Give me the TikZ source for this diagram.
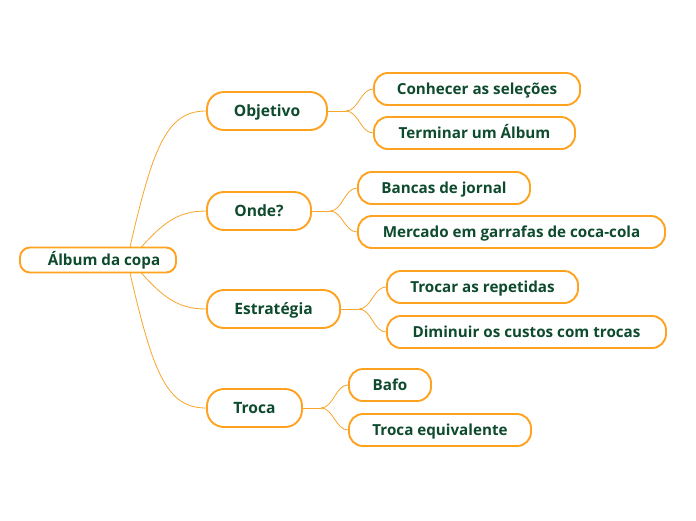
\documentclass[tikz,border=0pt]{standalone}
\usepackage{fontspec}
\setmainfont{Open Sans}
\usetikzlibrary{calc,backgrounds}
\definecolor{org}{HTML}{FFA21F}
\definecolor{lnk}{HTML}{F9A52A}
\definecolor{txt}{HTML}{0E4A2D}
\begin{document}
\begin{tikzpicture}[x=1pt,y=-1pt,
 base/.style={draw=org, line width=1.9pt, fill=white, text=txt, inner sep=0pt, anchor=center, text height=1.1em, text depth=0pt},
 rootbox/.style={base, rounded corners=10pt, minimum height=25pt, font=\fontsize{15.2}{17}\selectfont\bfseries},
 lone/.style={base, rounded corners=17pt, minimum height=38pt, font=\fontsize{15.6}{18}\selectfont\bfseries},
 ltwo/.style={base, rounded corners=14pt, minimum height=32pt, font=\fontsize{15.2}{17}\selectfont\bfseries},
 link/.style={draw=lnk, line width=0.8pt},
 branch/.style={link, out=0, in=180, looseness=0.9}]
\useasboundingbox (0,0) rectangle (696,520);
% root
\node[rootbox, minimum width=156pt] (root) at (98,260) {\hspace*{12pt}Álbum da copa};
% level 1
\node[lone, minimum width=120pt] (obj) at (267,111) {Objetivo};
\node[lone, minimum width=104pt] (onde) at (259,211) {Onde?};
\node[lone, minimum width=133pt] (estr) at (273.5,309) {Estratégia};
\node[lone, minimum width=95pt] (troca) at (254.5,408) {Troca};
% level 2
\node[ltwo, minimum width=206pt] (c1) at (477,89) {Conhecer as seleções};
\node[ltwo, minimum width=201pt] (c2) at (474.5,133) {Terminar um Álbum};
\node[ltwo, minimum width=172pt] (c3) at (444,188) {Bancas de jornal};
\node[ltwo, minimum width=307pt] (c4) at (511.5,232) {Mercado em garrafas de coca-cola};
\node[ltwo, minimum width=191pt] (c5) at (482.5,287) {Trocar as repetidas};
\node[ltwo, minimum width=279pt] (c6) at (526.5,332) {Diminuir os custos com trocas};
\node[ltwo, minimum width=82pt] (c7) at (390,385) {Bafo};
\node[ltwo, minimum width=182pt] (c8) at (440,430) {Troca equivalente};
% junctions
\coordinate (j1) at ($(obj.east)+(18,0)$);
\coordinate (j2) at ($(onde.east)+(18,0)$);
\coordinate (j3) at ($(estr.east)+(18,0)$);
\coordinate (j4) at ($(troca.east)+(18,0)$);
\coordinate (ra) at ($(root.center)+(29,0)$);
\coordinate (rb) at ($(root.center)+(32,0)$);
\begin{pgfonlayer}{background}
\draw[link] (ra) .. controls (152,150) and (165,111) .. (obj.west);
\draw[link] (rb) .. controls (160,225) and (175,211) .. (onde.west);
\draw[link] (rb) .. controls (160,295) and (175,309) .. (estr.west);
\draw[link] (ra) .. controls (152,370) and (165,408) .. (troca.west);
\draw[link] (obj.east) -- (j1);
\draw[link] (onde.east) -- (j2);
\draw[link] (estr.east) -- (j3);
\draw[link] (troca.east) -- (j4);
\draw[branch] (j1) to (c1.west);
\draw[branch] (j1) to (c2.west);
\draw[branch] (j2) to (c3.west);
\draw[branch] (j2) to (c4.west);
\draw[branch] (j3) to (c5.west);
\draw[branch] (j3) to (c6.west);
\draw[branch] (j4) to (c7.west);
\draw[branch] (j4) to (c8.west);
\end{pgfonlayer}
\end{tikzpicture}
\end{document}
